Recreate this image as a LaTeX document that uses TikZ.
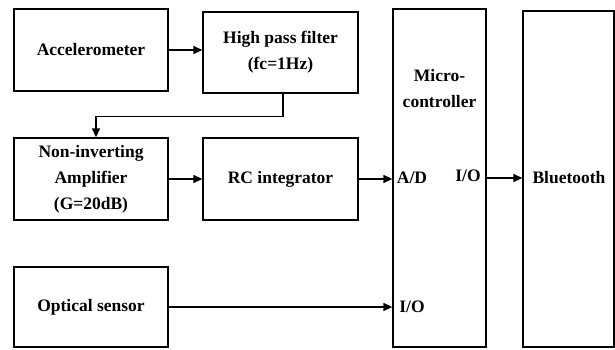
\documentclass[tikz,border=0pt]{standalone}
\usepackage{fontspec}
\setmainfont{Liberation Serif}
\usetikzlibrary{arrows.meta}

\tikzset{
  block/.style={draw, line width=1.3pt, rectangle, inner sep=0pt, align=center,
    font=\fontsize{17.5}{26}\selectfont\bfseries},
  lbl/.style={inner sep=0pt, font=\fontsize{17.5}{26}\selectfont\bfseries},
  arr/.style={line width=1.3pt, -{Triangle[length=9pt,width=8pt]}},
}

\begin{document}
\begin{tikzpicture}[x=1pt,y=-1pt]
\useasboundingbox (0,0) rectangle (615,350);

% processing chain blocks
\node[block, minimum width=154pt, minimum height=82pt] (acc) at (91,50) {Accelerometer};
\node[block, minimum width=155pt, minimum height=81pt] (hpf) at (280.5,52.5) {High pass filter\\(fc=1Hz)};
\node[block, minimum width=154pt, minimum height=82pt] (amp) at (91,179) {Non-inverting\\Amplifier\\(G=20dB)};
\node[block, minimum width=155pt, minimum height=82pt] (rc) at (280.5,179) {RC integrator};
\node[block, minimum width=154pt, minimum height=80pt] (opt) at (91,307) {Optical sensor};

% microcontroller and radio
\node[block, minimum width=93pt, minimum height=338pt] (mcu) at (439.5,178) {};
\node[lbl, align=center] (mcutxt) at (439.5,89) {Micro-\\controller};
\node[block, minimum width=91pt, minimum height=336pt] (bt) at (568.5,179) {};
\node[lbl] (bttxt) at (569,178) {Bluetooth};

% port labels
\node[lbl] (ad) at (412,178) {A/D};
\node[lbl] (io1) at (468,176) {I/O};
\node[lbl] (io2) at (412,307) {I/O};

% signal connections
\draw[arr] (acc.east) -- (acc.east -| hpf.west);
\draw[arr] ([xshift=2.5pt]hpf.south) -- ++(0,23) -| ([xshift=5pt]amp.north);
\draw[arr] (amp.east) -- (amp.east -| rc.west);
\draw[arr] (rc.east) -- (rc.east -| mcu.west);
\draw[arr] (mcu.east) -- (mcu.east -| bt.west);
\draw[arr] (opt.east) -- (opt.east -| mcu.west);
\end{tikzpicture}
\end{document}
